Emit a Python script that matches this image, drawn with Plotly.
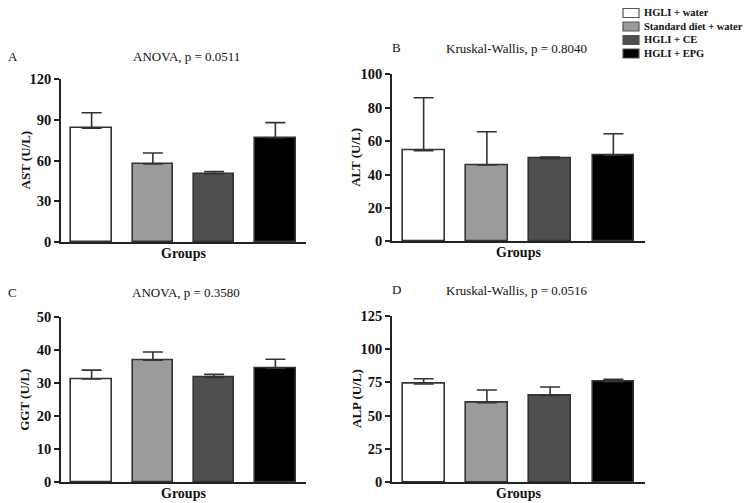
import plotly.graph_objects as go

# the page body has an 8px margin; the figure starts at (8, 8) and runs to the window edge
OFF = 8
W, H = 752 - OFF, 503 - OFF


def px_x(v):
    return (v - OFF) / W


def px_y(v):
    return 1 - (v - OFF) / H


groups = ["HGLI + water", "Standard diet + water", "HGLI + CE", "HGLI + EPG"]
colors = ["#ffffff", "#9b9b9b", "#4f4f4f", "#000000"]

ast_mean = [83.7, 57.4, 50.3, 76.8]
ast_err = [11.5, 8.1, 1.5, 11.1]
alt_mean = [54.3, 45.7, 49.5, 51.5]
alt_err = [31.7, 19.9, 1.0, 12.9]
ggt_mean = [31.3, 37.0, 31.8, 34.6]
ggt_err = [2.7, 2.5, 0.9, 2.7]
alp_mean = [73.7, 59.7, 65.2, 75.5]
alp_err = [4.0, 9.5, 6.3, 1.8]

panels = [
    dict(mean=ast_mean, err=ast_err, ytitle="AST (U/L)", title="ANOVA, p = 0.0511", letter="A",
         yr=[0, 120], dt=30, px=(61, 306), py=(79, 242), ttl=(186, 57), let=(6, 57)),
    dict(mean=alt_mean, err=alt_err, ytitle="ALT (U/L)", title="Kruskal-Wallis, p = 0.8040", letter="B",
         yr=[0, 100], dt=20, px=(392, 645), py=(74.3, 241.3), ttl=(517, 49), let=(390, 48)),
    dict(mean=ggt_mean, err=ggt_err, ytitle="GGT (U/L)", title="ANOVA, p = 0.3580", letter="C",
         yr=[0, 50], dt=10, px=(61, 306), py=(317.3, 482.3), ttl=(186, 292), let=(6, 292)),
    dict(mean=alp_mean, err=alp_err, ytitle="ALP (U/L)", title="Kruskal-Wallis, p = 0.0516", letter="D",
         yr=[0, 125], dt=25, px=(392, 645), py=(315.7, 482.3), ttl=(517, 290), let=(390, 289)),
]

FONT = "Liberation Serif"
fig = go.Figure()
annotations = []
shapes = []
layout = {}
for i, p in enumerate(panels):
    k = "" if i == 0 else str(i + 1)
    xa, ya = "x" + k, "y" + k
    for j, g in enumerate(groups):
        fig.add_trace(go.Bar(
            x=[g], y=[p["mean"][j]], xaxis=xa, yaxis=ya, name=g,
            marker=dict(color=colors[j], line=dict(color="#333333", width=1.6)),
            width=0.66, legendgroup=g, showlegend=False,
            error_y=dict(type="data", symmetric=False, array=[p["err"][j]], arrayminus=[0],
                         color="#333333", thickness=1.6, width=10),
        ))
    x0, x1 = p["px"]
    y0, y1 = p["py"]
    layout["xaxis" + k] = dict(domain=[px_x(x0), px_x(x1)], anchor=ya, range=[-0.5, 3.5],
                              categoryorder="array", categoryarray=groups, automargin=False,
                              showticklabels=False, ticks="", showline=True, linecolor="#222",
                              linewidth=1.6, showgrid=False, zeroline=False, fixedrange=True)
    layout["yaxis" + k] = dict(domain=[px_y(y1), px_y(y0)], anchor=xa, range=p["yr"],
                              automargin=False,
                              dtick=p["dt"], tick0=0, ticks="outside", ticklen=5, tickwidth=1.6,
                              tickcolor="#222", showline=True, linecolor="#222", linewidth=1.6,
                              showgrid=False, zeroline=False,
                              tickfont=dict(family=FONT, size=14.5, color="#111", weight="bold"))
    annotations.append(dict(text=p["ytitle"], textangle=-90, x=px_x(x0 - 36), y=px_y((y0 + y1) / 2),
                            xref="paper", yref="paper", showarrow=False, xanchor="center", yanchor="middle",
                            font=dict(family=FONT, size=13, color="#111", weight="bold")))
    annotations.append(dict(text="Groups", x=px_x((x0 + x1) / 2), y=px_y(y1 + 11),
                            xref="paper", yref="paper", showarrow=False, xanchor="center", yanchor="middle",
                            font=dict(family=FONT, size=14, color="#111", weight="bold")))
    annotations.append(dict(text=p["title"], x=px_x(p["ttl"][0]), y=px_y(p["ttl"][1]),
                            xref="paper", yref="paper", showarrow=False, xanchor="center", yanchor="middle",
                            font=dict(family=FONT, size=13, color="#111")))
    annotations.append(dict(text=p["letter"], x=px_x(p["let"][0]), y=px_y(p["let"][1]),
                            xref="paper", yref="paper", showarrow=False, xanchor="left", yanchor="middle",
                            font=dict(family=FONT, size=13, color="#111")))

# legend (top right)
leg_rows = [13, 26.5, 40, 53.5]
for j, g in enumerate(groups):
    yc = leg_rows[j]
    shapes.append(dict(type="rect", xref="paper", yref="paper",
                       x0=px_x(623), x1=px_x(639), y0=px_y(yc + 4.5), y1=px_y(yc - 4.5),
                       fillcolor=colors[j], line=dict(color="#555555", width=1.2)))
    annotations.append(dict(text=g, x=px_x(642), y=px_y(yc), xref="paper", yref="paper",
                            showarrow=False, xanchor="left", yanchor="middle",
                            font=dict(family=FONT, size=10.5, color="#111", weight="bold")))

fig.update_layout(
    template="none",
    width=W, height=H, margin=dict(l=0, r=0, t=0, b=0, autoexpand=False),
    paper_bgcolor="white", plot_bgcolor="white",
    barmode="overlay", bargap=0, showlegend=False,
    annotations=annotations, shapes=shapes,
    **layout,
)

fig.write_html("out.html")
